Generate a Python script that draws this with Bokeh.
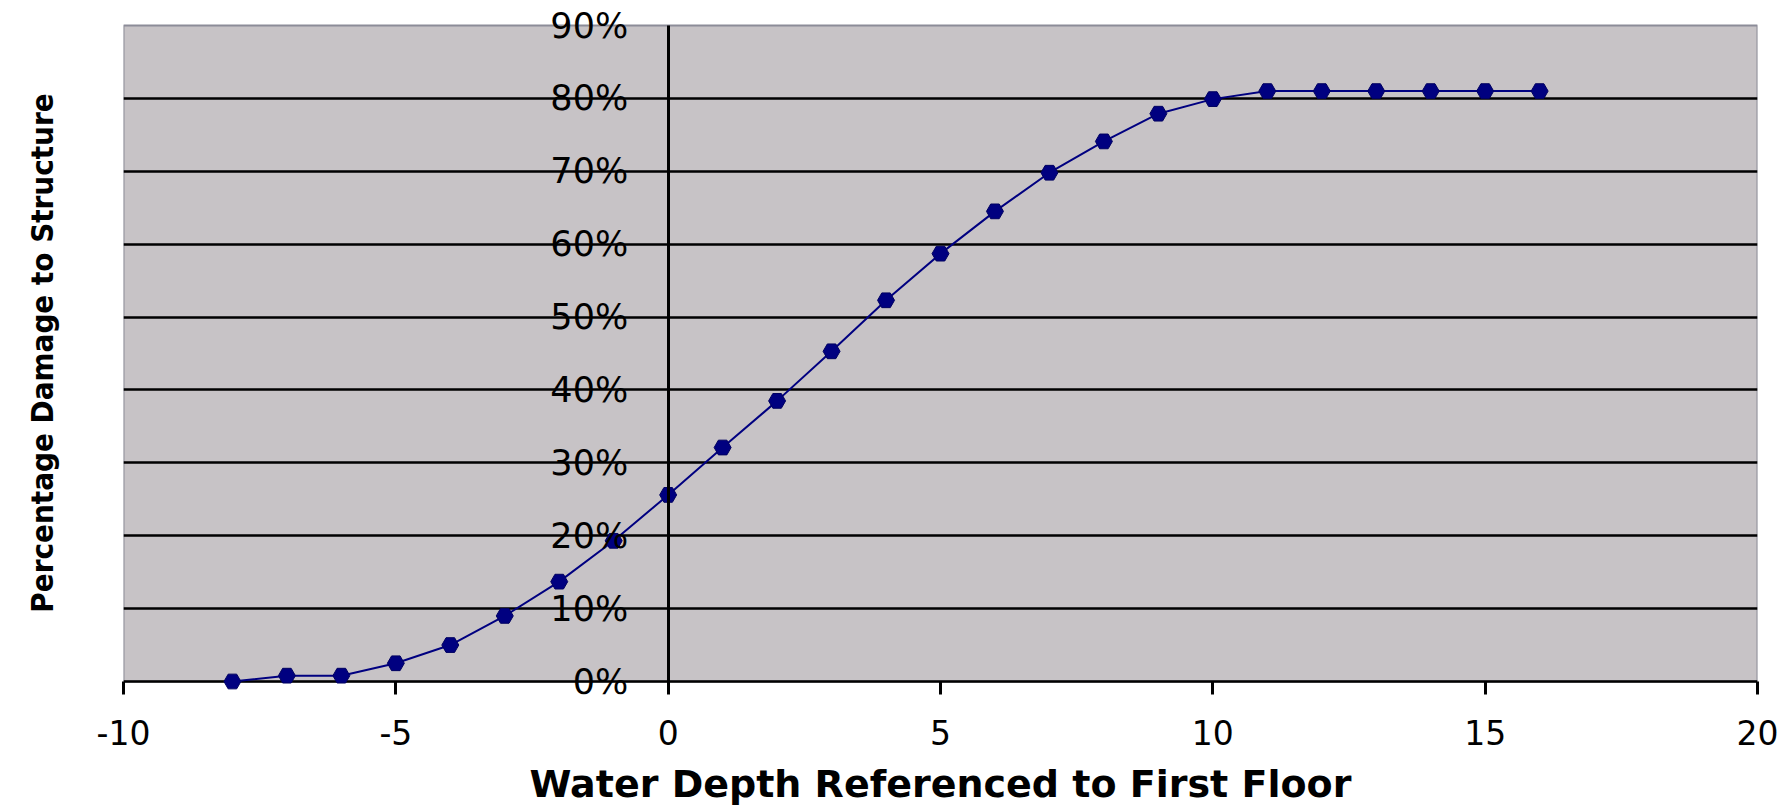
from bokeh.plotting import figure
from bokeh.models import Range1d, FixedTicker, LinearAxis, ColumnDataSource
from bokeh.embed import file_html
from bokeh.resources import INLINE

# ---- data ----
depth = [-8, -7, -6, -5, -4, -3, -2, -1, 0, 1, 2, 3, 4, 5, 6, 7, 8, 9, 10, 11, 12, 13, 14, 15, 16]
damage_pct = [0.0, 0.8, 0.8, 2.5, 5.0, 9.0, 13.7, 19.3, 25.6, 32.1, 38.5, 45.3, 52.3, 58.7,
              64.5, 69.8, 74.1, 77.9, 79.9, 81.0, 81.0, 81.0, 81.0, 81.0, 81.0]
x_ticks = [-10, -5, 0, 5, 10, 15, 20]
x_tick_labels = ["-10", "-5", "0", "5", "10", "15", "20"]
y_ticks = [0, 10, 20, 30, 40, 50, 60, 70, 80, 90]
y_tick_labels = ["0%", "10%", "20%", "30%", "40%", "50%", "60%", "70%", "80%", "90%"]
x_title = "Water Depth Referenced to First Floor"
y_title = "Percentage Damage to Structure"

# ---- layout (pixels) ----
PLOT_W, PLOT_H = 1634, 656          # visible chart area
PAD_TOP, PAD_BOT = 14, 13           # extra frame room so the % labels at 0 and 90 are not cut
px_per_unit = PLOT_H / (y_ticks[-1] - y_ticks[0])
y_lo = y_ticks[0] - PAD_BOT / px_per_unit
y_hi = y_ticks[-1] + PAD_TOP / px_per_unit

p = figure(frame_width=PLOT_W, frame_height=PLOT_H + PAD_TOP + PAD_BOT,
           min_border_left=123, min_border_right=28,
           min_border_top=25 - PAD_TOP, min_border_bottom=129 - PAD_BOT,
           x_range=Range1d(x_ticks[0], x_ticks[-1]), y_range=Range1d(y_lo, y_hi),
           output_backend="svg", toolbar_location=None)

p.background_fill_color = "white"
p.border_fill_color = "white"
p.outline_line_color = None

# chart area fill (drawn beneath the grid)
p.quad(left=[x_ticks[0]], right=[x_ticks[-1]], bottom=[y_ticks[0]], top=[y_ticks[-1]],
       fill_color="#c7c3c6", line_color="#8c8c98", line_width=2, level="image")

# x axis (line is drawn by the 0 % grid line; ticks reach down from y = 0)
xa = p.xaxis[0]
xa.ticker = FixedTicker(ticks=x_ticks)
xa.major_label_overrides = {t: l for t, l in zip(x_ticks, x_tick_labels)}
xa.axis_line_color = None
xa.major_tick_line_color = "black"
xa.major_tick_line_width = 3
xa.major_tick_in = PAD_BOT
xa.major_tick_out = 0
xa.minor_tick_line_color = None
xa.major_label_text_font = "DejaVu Sans"
xa.major_label_text_font_size = "33px"
xa.major_label_text_color = "black"
xa.major_label_standoff = 25
xa.axis_label = x_title
xa.axis_label_text_font = "DejaVu Sans"
xa.axis_label_text_font_style = "bold"
xa.axis_label_text_font_size = "38px"
xa.axis_label_text_color = "black"
xa.axis_label_standoff = 14

# y axis on the left: only the title
ya = p.yaxis[0]
ya.ticker = FixedTicker(ticks=[])
ya.axis_line_color = None
ya.major_tick_line_color = None
ya.minor_tick_line_color = None
ya.major_label_text_font_size = "0px"
ya.axis_label = y_title
ya.axis_label_text_font = "'DejaVu Sans Condensed', 'Liberation Sans', sans-serif"
ya.axis_label_text_font_style = "bold"
ya.axis_label_text_font_size = "31px"
ya.axis_label_text_color = "black"
ya.axis_label_standoff = 64

# percentage axis drawn at x = 0 inside the chart
pa = LinearAxis(fixed_location=0, ticker=FixedTicker(ticks=y_ticks),
                bounds=(y_ticks[0], y_ticks[-1]))
pa.major_label_overrides = {t: l for t, l in zip(y_ticks, y_tick_labels)}
pa.axis_line_color = "black"
pa.axis_line_width = 3
pa.major_tick_line_color = None
pa.major_tick_out = 0
pa.major_tick_in = 0
pa.minor_tick_line_color = None
pa.major_label_standoff = 40
pa.major_label_text_font = "DejaVu Sans"
pa.major_label_text_font_size = "35px"
pa.major_label_text_color = "black"
p.add_layout(pa, "left")

p.xgrid.grid_line_color = None
for g in p.ygrid:
    g.ticker = FixedTicker(ticks=y_ticks[:-1])
    g.grid_line_color = "black"
    g.grid_line_width = 2.5
    g.grid_line_alpha = 1.0

src = ColumnDataSource(dict(x=depth, y=damage_pct))
p.line("x", "y", source=src, line_color="#000080", line_width=2)
p.scatter("x", "y", source=src, marker="hex", size=17, fill_color="#000080",
          line_color="#000060", line_width=1)

open("out.html", "w").write(file_html(p, INLINE))
